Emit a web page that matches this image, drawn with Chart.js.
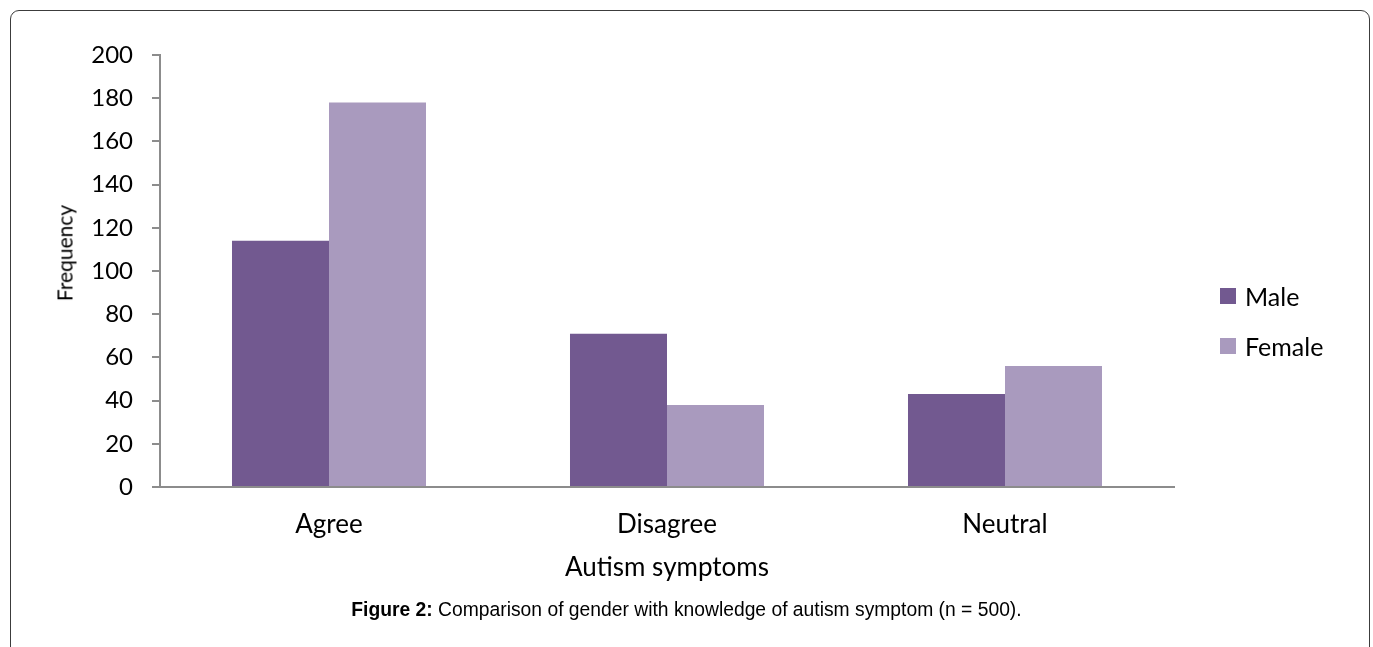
<!DOCTYPE html>
<html>
<head>
<meta charset="utf-8">
<script src="https://cdn.jsdelivr.net/npm/chart.js@4.4.1/dist/chart.umd.min.js"></script>
<style>
  html, body { margin: 0; padding: 0; background: #fff; }
  #wrap { position: relative; width: 1373px; height: 647px; overflow: hidden; }
  #frame {
    position: absolute; left: 10px; top: 10px; width: 1358px; height: 700px;
    border: 1px solid #3c3c3c; border-radius: 9px;
  }
  #chart { position: absolute; left: 0; top: 0; }
  #ytitle {
    position: absolute; left: 64px; top: 253px; transform: translate(-50%, -50%) rotate(-90deg);
    font-family: Lato, "Open Sans", sans-serif; font-size: 21px; color: #000; white-space: nowrap;
  }
  #legend { position: absolute; left: 1220px; top: 280px; font-family: Lato, "Open Sans", sans-serif; font-size: 25px; color: #000; }
  #legend div { display: flex; align-items: center; height: 32px; margin-bottom: 18px; }
  #legend span.box { display: inline-block; width: 16px; height: 16px; margin-right: 9px; }
  #caption {
    position: absolute; left: 0; top: 599px; width: 1373px; text-align: center;
    font-family: "Liberation Sans", Arial, sans-serif; font-size: 19.3px; color: #000;
  }
</style>
</head>
<body>
<div id="wrap">
  <div id="frame"></div>
  <canvas id="chart" width="1373" height="647"></canvas>
  <div id="ytitle">Frequency</div>
  <div id="legend"></div>
  <div id="caption"><b>Figure 2:</b> Comparison of gender with knowledge of autism symptom (n = 500).</div>
</div>
<script>
const categories = ['Agree', 'Disagree', 'Neutral'];
const maleValues = [114, 71, 43];
const femaleValues = [178, 38, 56];
const yTicks = [0, 20, 40, 60, 80, 100, 120, 140, 160, 180, 200];

const MALE = '#725990';
const FEMALE = '#a99abe';
const AXIS = '#8c8c8c';
const FONT = 'Lato, "Open Sans", sans-serif';

const chart = new Chart(document.getElementById('chart'), {
  type: 'bar',
  data: {
    labels: categories,
    datasets: [
      { label: 'Male', data: maleValues, backgroundColor: MALE },
      { label: 'Female', data: femaleValues, backgroundColor: FEMALE }
    ]
  },
  options: {
    responsive: false,
    animation: false,
    layout: { padding: { left: 0, top: 55, right: 199, bottom: 0 } },
    datasets: { bar: { barPercentage: 1, categoryPercentage: 0.574 } },
    plugins: { legend: { display: false }, tooltip: { enabled: false } },
    scales: {
      x: {
        grid: { display: true, drawOnChartArea: false, drawTicks: false },
        border: { color: AXIS, width: 2 },
        ticks: { color: '#000', font: { family: FONT, size: 26 }, padding: 22 },
        title: {
          display: true, text: 'Autism symptoms', color: '#000',
          font: { family: FONT, size: 26 }, padding: { top: 0, bottom: 64 }
        },
        afterFit: s => { s.height = 160; }
      },
      y: {
        min: 0, max: 200,
        afterBuildTicks: s => { s.ticks = yTicks.map(v => ({ value: v })); },
        grid: { drawOnChartArea: false, color: AXIS, tickLength: 8, lineWidth: 2 },
        border: { color: AXIS, width: 2 },
        ticks: { color: '#000', font: { family: FONT, size: 24 }, padding: 19 },
        afterFit: s => { s.width = 160; }
      }
    }
  }
});

// legend built from the dataset colours
const legend = document.getElementById('legend');
chart.data.datasets.forEach(ds => {
  const row = document.createElement('div');
  row.innerHTML = `<span class="box" style="background:${ds.backgroundColor}"></span>${ds.label}`;
  legend.appendChild(row);
});
</script>
</body>
</html>
